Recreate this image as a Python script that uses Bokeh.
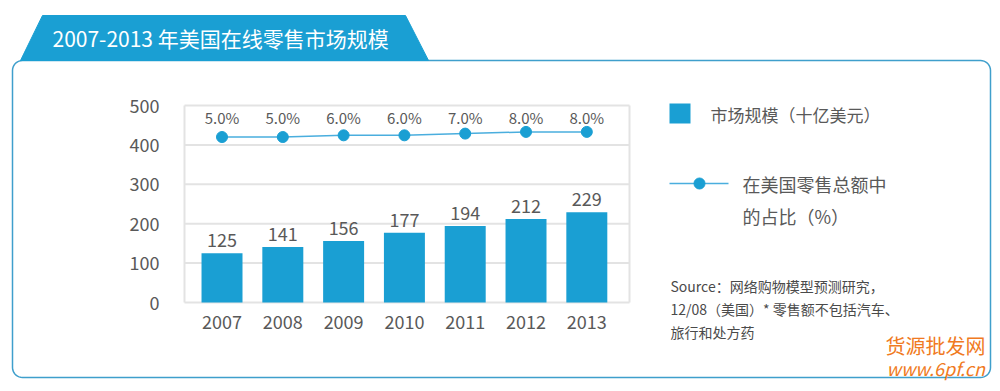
import numpy as np
from bokeh.plotting import figure
from bokeh.models import Range1d, ColumnDataSource, FixedTicker
from bokeh.core.properties import value
from bokeh.embed import file_html
from bokeh.resources import INLINE

years = ["2007", "2008", "2009", "2010", "2011", "2012", "2013"]
market_size = [125, 141, 156, 177, 194, 212, 229]
share_pct = [5.0, 5.0, 6.0, 6.0, 7.0, 8.0, 8.0]
share_labels = ["5.0%", "5.0%", "6.0%", "6.0%", "7.0%", "8.0%", "8.0%"]
y_ticks = [0, 100, 200, 300, 400, 500]

title_text = "2007-2013 年美国在线零售市场规模"
legend_bar = "市场规模（十亿美元）"
legend_line = ["在美国零售总额中", "的占比（%）"]
source_lines = ["Source：网络购物模型预测研究，", "12/08（美国）* 零售额不包括汽车、", "旅行和处方药"]
watermark = ["货源批发网", "www.6pf.cn"]

FONT = "Noto Sans CJK SC"
BLUE = "#1a9fd3"
TXT = "#595959"
GRID = "#e3e3e3"

W, H = 1000, 391
# plot-area placement on the canvas (pixels) and its data extents
PL, PR, PT, PB = 184, 629, 105, 302
XL, XR = -0.617, 6.702
YB, YT = 0, 500
ppx = (PR - PL) / (XR - XL)
ppy = (PB - PT) / (YT - YB)
x_start, x_end = XL - PL / ppx, XR + (W - PR) / ppx
y_start, y_end = YB - (H - PB) / ppy, YT + PT / ppy
# secondary scale for the share line: 5% -> 420, 8% -> 433 on the primary scale
k = 13 / 3.0
to_pct = lambda v: 5 + (v - 420) / k

xs = list(range(len(years)))
src = ColumnDataSource(dict(x=xs, size=market_size, size_lbl=[str(v) for v in market_size],
                            pct=share_pct, pct_lbl=share_labels, top=[YT] * len(xs)))

p = figure(width=W, height=H, output_backend="svg", toolbar_location=None,
           x_range=Range1d(x_start, x_end), y_range=Range1d(y_start, y_end),
           min_border=0, min_border_left=0, min_border_right=0, min_border_top=0, min_border_bottom=0)
p.title.visible = False
p.extra_y_ranges = {"pct": Range1d(to_pct(y_start), to_pct(y_end)), "py": Range1d(H, 0)}
p.extra_x_ranges = {"px": Range1d(0, W)}
p.background_fill_color = "white"
p.border_fill_color = "white"
p.outline_line_color = None
p.xgrid.visible = False
p.ygrid.visible = False

PX = dict(x_range_name="px", y_range_name="py")


def rounded_rect(l, r, t, b, rad, n=10):
    # screen-style coordinates (y grows downward)
    xs_, ys_ = [], []
    corners = [(r - rad, t + rad, -90), (r - rad, b - rad, 0), (l + rad, b - rad, 90), (l + rad, t + rad, 180)]
    for cx, cy, a0 in corners:
        for a in np.linspace(a0, a0 + 90, n):
            xs_.append(cx + rad * np.cos(np.radians(a)))
            ys_.append(cy + rad * np.sin(np.radians(a)))
    return xs_, ys_


# frame border and title banner
bx, by = rounded_rect(12, 990, 60, 377, 10)
p.patch(bx, by, fill_alpha=0, line_color="#3f9fcc", line_width=1.5, **PX)
p.patch([42, 405, 428, 20], [15, 15, 60, 60], fill_color=BLUE, line_color=BLUE, line_width=1, **PX)
p.text([52], [37], text=[title_text], text_font=value(FONT), text_font_size="21px",
       text_color="white", text_baseline="middle", **PX)

# plot-area grid and outline
p.segment(x0=XL, x1=XR, y0=y_ticks, y1=y_ticks, line_color=GRID, line_width=2)
p.segment(x0=[XL, XR], x1=[XL, XR], y0=YB, y1=YT, line_color=GRID, line_width=2)

# data
p.vbar(x="x", top="size", width=0.674, source=src, color=BLUE, line_color=None)
p.text(x="x", y="size", text="size_lbl", source=src, text_align="center", text_baseline="bottom",
       y_offset=-6, text_font=value(FONT), text_font_size="18px", text_color=TXT)
p.line(x="x", y="pct", source=src, y_range_name="pct", line_color="#4aaede", line_width=1.5)
p.scatter(x="x", y="pct", source=src, y_range_name="pct", size=11, fill_color=BLUE, line_color=BLUE)
p.text(x="x", y="top", text="pct_lbl", source=src, text_align="center", text_baseline="middle",
       y_offset=12, text_font=value(FONT), text_font_size="15px", text_color=TXT)

# axes drawn at the plot-area edges
p.yaxis.fixed_location = XL
p.xaxis.fixed_location = YB
p.yaxis.ticker = FixedTicker(ticks=y_ticks)
p.xaxis.ticker = FixedTicker(ticks=xs)
p.xaxis.major_label_overrides = {i: y for i, y in enumerate(years)}
for ax in (p.xaxis, p.yaxis):
    ax.major_tick_line_color = None
    ax.minor_tick_line_color = None
    ax.major_tick_out = 0
    ax.major_tick_in = 0
    ax.axis_line_color = None
    ax.major_label_text_font = FONT
    ax.major_label_text_font_size = "18px"
    ax.major_label_text_color = TXT
p.yaxis.major_label_standoff = 25
p.xaxis.major_label_standoff = 12

# legend
p.quad(left=[669], right=[690], top=[103], bottom=[123], fill_color=BLUE, line_color=None, **PX)
p.text([710], [114], text=[legend_bar], text_font=value(FONT), text_font_size="17px",
       text_color=TXT, text_baseline="middle", **PX)
p.line([669, 728], [183, 183], line_color="#4aaede", line_width=1.5, **PX)
p.scatter([699], [183], size=11, fill_color=BLUE, line_color=BLUE, **PX)
p.text([742, 742], [183, 215], text=legend_line, text_font=value(FONT), text_font_size="18px",
       text_color=TXT, text_baseline="middle", **PX)
p.text([670] * 3, [285, 308, 331], text=source_lines, text_font=value(FONT), text_font_size="14px",
       text_color="#4a4a4a", text_baseline="middle", **PX)

# watermark
p.text([885], [345], text=[watermark[0]], text_font=value(FONT), text_font_size="20px",
       text_color="#f07a22", text_baseline="middle", **PX)
p.text([886], [367], text=[watermark[1]], text_font=value(FONT), text_font_size="18px",
       text_color="#f07a22", text_baseline="middle", text_font_style="italic", **PX)

open("out.html", "w").write(file_html(p, INLINE))
